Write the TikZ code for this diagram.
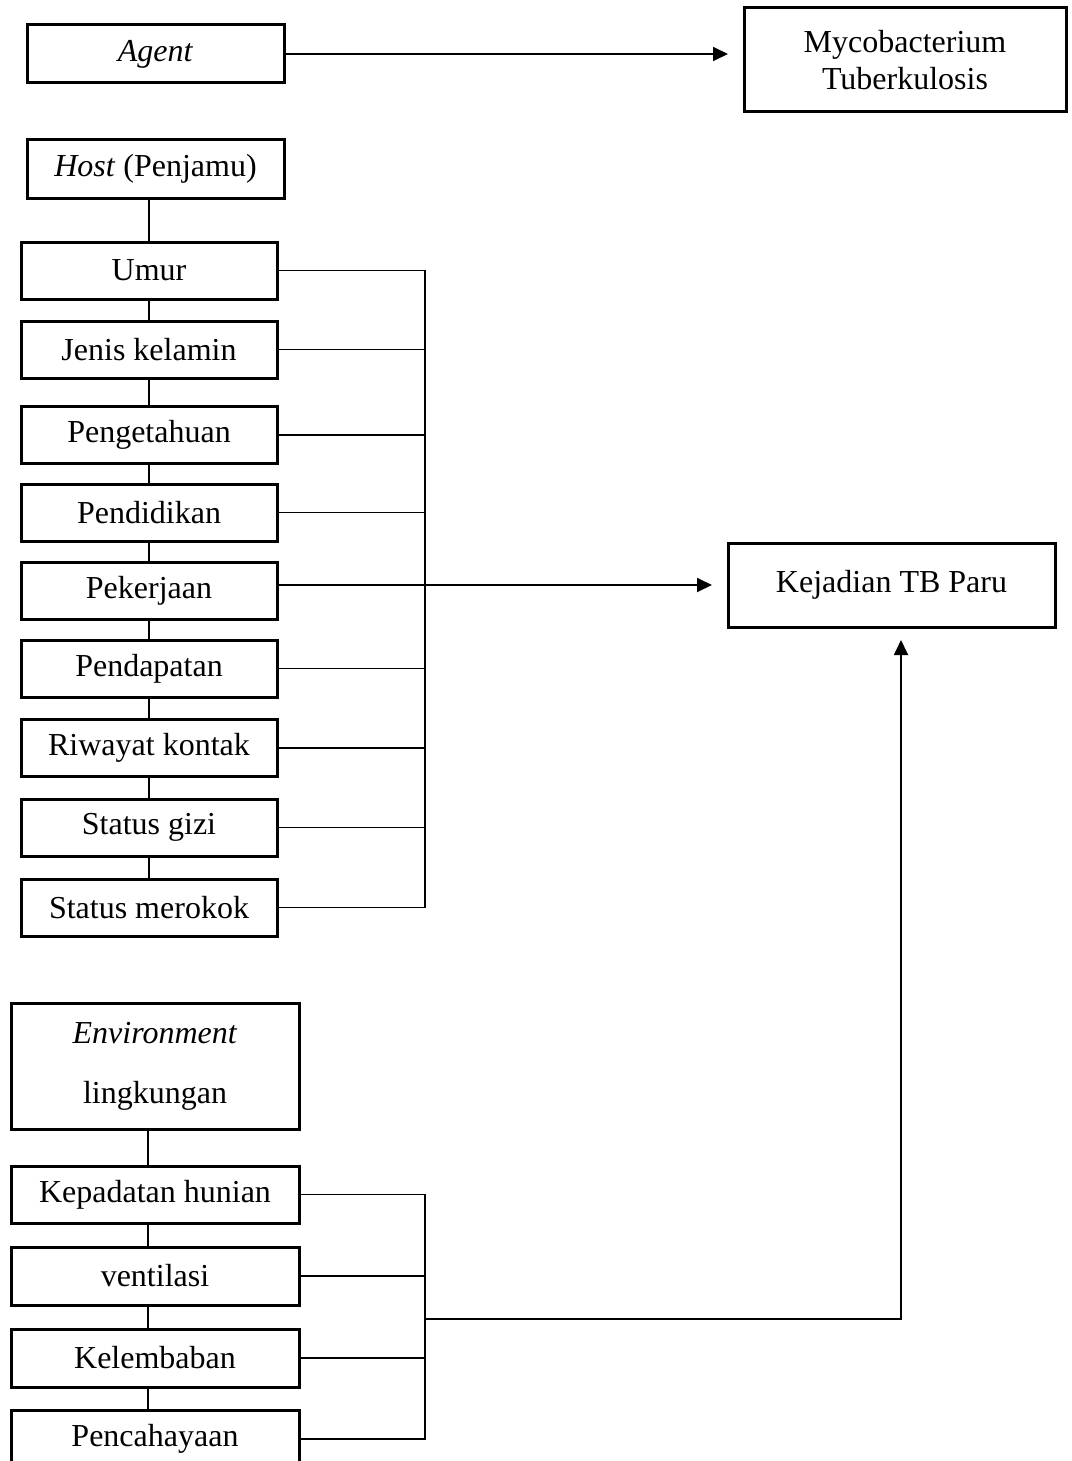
\documentclass[tikz,border=0pt]{standalone}
\usepackage{fontspec}
\setmainfont{Liberation Serif}
\usetikzlibrary{arrows.meta}

\tikzset{
    x={0.5pt},
    y={-0.5pt},
    factor/.style 2 args={
        draw, line width={1.5pt},
        font={\fontsize{16}{18.5}\selectfont},
        align=center,
        inner sep=0pt, outer sep=0pt,
        minimum width={#1},
        minimum height={#2},
    },
    factor/.default={128pt}{28.5pt},
    link/.style={
        draw, line width={0.9pt},
    },
    influence/.style={
        link,
        -{Triangle[length=7.5pt,width=7pt]},
        shorten >={#1},
    },
    influence/.default={8pt},
}

\begin{document}
\begin{tikzpicture}
\useasboundingbox (0,0) rectangle (1071,1461);
% agent
\node[factor={128.5pt}{29pt}] (agent) at (155.5,54) {\textit{Agent}};
\node[factor={161pt}{52pt}] (myco) at (905,60) {Mycobacterium\\Tuberkulosis};
% host
\node[factor={128.5pt}{29pt}] (host) at (155.5,169) {\textit{Host} (Penjamu)};
\node[factor] (umur) at (149,270.5) {Umur};
\node[factor] (jenis) at (149,349.5) {Jenis kelamin};
\node[factor] (pengetahuan) at (149,435) {Pengetahuan};
\node[factor] (pendidikan) at (149,512.5) {Pendidikan};
\node[factor] (pekerjaan) at (149,590.5) {Pekerjaan};
\node[factor] (pendapatan) at (149,668.5) {Pendapatan};
\node[factor] (riwayat) at (149,748) {Riwayat kontak};
\node[factor] (gizi) at (149,827.5) {Status gizi};
\node[factor] (merokok) at (149,907.5) {Status merokok};
% outcome
\node[factor={163.5pt}{42pt}] (kejadian) at (891.5,585) {Kejadian TB Paru};
% environment
\node[factor={144pt}{63pt}, font={\fontsize{16}{30}\selectfont}] (env) at (155,1066) {\textit{Environment}\\lingkungan};
\node[factor={144pt}{28.5pt}] (kepadatan) at (155,1194.5) {Kepadatan hunian};
\node[factor={144pt}{29pt}] (ventilasi) at (155,1276) {ventilasi};
\node[factor={144pt}{29pt}] (kelembaban) at (155,1358) {Kelembaban};
\node[factor={144pt}{29pt}] (pencahayaan) at (155,1439) {Pencahayaan};
\coordinate (host bus) at (425,0);
\coordinate (env bus) at (425,0);
\coordinate (env join) at (425,1319);
% agent branch
\path[influence] (agent.east) -- (agent.east -| myco.west);
% host branches
\path[link] (umur.north |- host.south) -- (umur.north);
\path[link] (umur.south) -- (jenis.north);
\path[link] (jenis.south) -- (pengetahuan.north);
\path[link] (pengetahuan.south) -- (pendidikan.north);
\path[link] (pendidikan.south) -- (pekerjaan.north);
\path[link] (pekerjaan.south) -- (pendapatan.north);
\path[link] (pendapatan.south) -- (riwayat.north);
\path[link] (riwayat.south) -- (gizi.north);
\path[link] (gizi.south) -- (merokok.north);
\path[link] (umur.east) -- (umur.east -| host bus) -- (merokok.east -| host bus) -- (merokok.east);
\path[link] (jenis.east) -- (jenis.east -| host bus);
\path[link] (pengetahuan.east) -- (pengetahuan.east -| host bus);
\path[link] (pendidikan.east) -- (pendidikan.east -| host bus);
\path[link] (pendapatan.east) -- (pendapatan.east -| host bus);
\path[link] (riwayat.east) -- (riwayat.east -| host bus);
\path[link] (gizi.east) -- (gizi.east -| host bus);
\path[influence] (pekerjaan.east |- kejadian.west) -- (kejadian.west);
% environment branches
\path[link] ([xshift=-3.5pt]env.south) -- ([xshift=-3.5pt]kepadatan.north);
\path[link] ([xshift=-3.5pt]kepadatan.south) -- ([xshift=-3.5pt]ventilasi.north);
\path[link] ([xshift=-3.5pt]ventilasi.south) -- ([xshift=-3.5pt]kelembaban.north);
\path[link] ([xshift=-3.5pt]kelembaban.south) -- ([xshift=-3.5pt]pencahayaan.north);
\path[link] (kepadatan.east) -- (kepadatan.east -| env bus) -- (pencahayaan.east -| env bus) -- (pencahayaan.east);
\path[link] (ventilasi.east) -- (ventilasi.east -| env bus);
\path[link] (kelembaban.east) -- (kelembaban.east -| env bus);
\path[influence={6.5pt}] (env join) -| ([xshift=4.75pt]kejadian.south);
\end{tikzpicture}
\end{document}
